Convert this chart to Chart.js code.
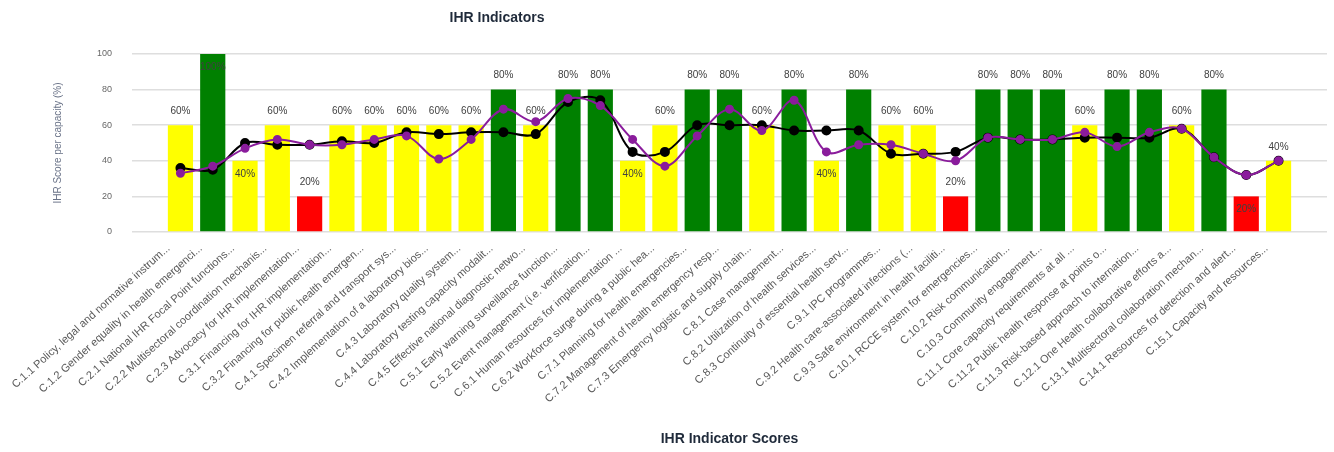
<!DOCTYPE html>
<html>
<head>
<meta charset="utf-8">
<script src="https://cdn.jsdelivr.net/npm/chart.js@4.4.0/dist/chart.umd.min.js"></script>
<style>
  html, body { margin: 0; padding: 0; background: #fff; }
</style>
</head>
<body>
<canvas id="ihrChart" width="1334" height="452"></canvas>
<script>
// indicator names (shown truncated on the axis)
const indicators = [
  "C.1.1 Policy, legal and normative instruments to implement IHR",
  "C.1.2 Gender equality in health emergencies",
  "C.2.1 National IHR Focal Point functions",
  "C.2.2 Multisectoral coordination mechanisms",
  "C.2.3 Advocacy for IHR implementation",
  "C.3.1 Financing for IHR implementation",
  "C.3.2 Financing for public health emergency response",
  "C.4.1 Specimen referral and transport system",
  "C.4.2 Implementation of a laboratory biosafety and biosecurity regime",
  "C.4.3 Laboratory quality system",
  "C.4.4 Laboratory testing capacity modalities",
  "C.4.5 Effective national diagnostic network",
  "C.5.1 Early warning surveillance function",
  "C.5.2 Event management (i.e. verification, investigation, analysis)",
  "C.6.1 Human resources for implementation of IHR",
  "C.6.2 Workforce surge during a public health event",
  "C.7.1 Planning for health emergencies",
  "C.7.2 Management of health emergency response",
  "C.7.3 Emergency logistic and supply chain management",
  "C.8.1 Case management",
  "C.8.2 Utilization of health services",
  "C.8.3 Continuity of essential health services",
  "C.9.1 IPC programmes",
  "C.9.2 Health care-associated infections (HCAI) surveillance",
  "C.9.3 Safe environment in health facilities",
  "C.10.1 RCCE system for emergencies",
  "C.10.2 Risk communication",
  "C.10.3 Community engagement",
  "C.11.1 Core capacity requirements at all times for PoEs",
  "C.11.2 Public health response at points of entry",
  "C.11.3 Risk-based approach to international travel-related measures",
  "C.12.1 One Health collaborative efforts across sectors",
  "C.13.1 Multisectoral collaboration mechanism for food safety events",
  "C.14.1 Resources for detection and alert",
  "C.15.1 Capacity and resources"
];

const scores = [60, 100, 40, 60, 20, 60, 60, 60, 60, 60, 80, 60, 80, 80, 40, 60, 80, 80,
  60, 80, 40, 80, 60, 60, 20, 80, 80, 80, 60, 80, 80, 60, 80, 20, 40];

const regionalAvg = [36, 35, 50, 49, 49, 51, 50, 56, 55, 56, 56, 55, 73, 74, 45, 45, 60, 60,
  60, 57, 57, 57, 44, 44, 45, 53, 52, 52, 53, 53, 53, 58, 42, 32, 40];

const globalAvg = [33, 37, 47, 52, 49, 49, 52, 54, 41, 52, 69, 62, 75, 71, 52, 37, 54, 69,
  57, 74, 45, 49, 49, 44, 40, 53, 52, 52, 56, 48, 56, 58, 42, 32, 40];

const yTicks = [0, 20, 40, 60, 80, 100];

const FONT = "'Liberation Sans', Arial, sans-serif";
const PURPLE = "#8a1c9c";

function barColour(v) {
  if (v >= 80) return "#008000";
  if (v >= 40) return "#ffff00";
  return "#ff0000";
}

function shortName(s) {
  return s.slice(0, 41) + "...";
}

// % labels on the bars, pushed inside when a line point sits just above the bar
const barLabels = {
  id: "barLabels",
  afterDatasetsDraw(chart) {
    const meta = chart.getDatasetMeta(0);
    const ctx = chart.ctx;
    ctx.save();
    ctx.font = "10px " + FONT;
    ctx.fillStyle = "#404040";
    ctx.textAlign = "center";
    ctx.textBaseline = "middle";
    meta.data.forEach((bar, i) => {
      const v = scores[i];
      const crowded = [regionalAvg[i], globalAvg[i]].some(l => l - v > 3 && l - v < 14);
      const inside = v >= 100 || crowded;
      ctx.fillText(v + "%", bar.x, inside ? bar.y + 13 : bar.y - 14);
    });
    ctx.restore();
  }
};

const TITLE_X = 497;
const chartTitle = {
  id: "chartTitle",
  afterDraw(chart) {
    const ctx = chart.ctx;
    ctx.save();
    ctx.font = "bold 14px " + FONT;
    ctx.fillStyle = "#1f2a3a";
    ctx.textAlign = "center";
    ctx.textBaseline = "middle";
    ctx.fillText("IHR Indicators", TITLE_X, 18);
    ctx.restore();
  }
};

const toPoints = arr => arr.map((y, x) => ({ x, y }));

let ctx = document.getElementById("ihrChart").getContext("2d");

new Chart(ctx, {
  data: {
    datasets: [
      {
        type: "bar",
        label: "Score",
        data: toPoints(scores),
        backgroundColor: scores.map(barColour),
        barPercentage: 0.78,
        categoryPercentage: 1,
        order: 2
      },
      {
        type: "line",
        label: "Regional average",
        data: toPoints(regionalAvg),
        borderColor: "#000",
        backgroundColor: "#000",
        borderWidth: 2,
        pointRadius: 4,
        tension: 0.35,
        order: 1
      },
      {
        type: "line",
        label: "Global average",
        data: toPoints(globalAvg),
        borderColor: PURPLE,
        backgroundColor: PURPLE,
        borderWidth: 2,
        pointRadius: 3.5,
        tension: 0.35,
        order: 0
      }
    ]
  },
  options: {
    responsive: false,
    animation: false,
    layout: { padding: { left: 48, right: 7, top: 54, bottom: 0 } },
    plugins: {
      legend: { display: false },
      tooltip: { enabled: false }
    },
    scales: {
      x: {
        type: "linear",
        min: -1,
        max: indicators.length,
        grid: { display: false, drawTicks: false },
        border: { display: false },
        ticks: {
          stepSize: 1,
          maxTicksLimit: 100,
          autoSkip: false,
          minRotation: 42,
          maxRotation: 42,
          padding: 10,
          labelOffset: -12,
          color: "#595959",
          font: { family: FONT, size: 11 },
          callback: v => (indicators[v] ? shortName(indicators[v]) : "")
        },
        title: {
          display: true,
          text: "IHR Indicator Scores",
          color: "#1f2a3a",
          font: { family: FONT, size: 14, weight: "bold" },
          padding: { top: 4, bottom: 4 }
        },
        afterFit: axis => { axis.height = 220; }
      },
      y: {
        min: 0,
        max: 100,
        grid: { color: "#dedede", lineWidth: 1.5, drawTicks: false },
        border: { display: false },
        afterBuildTicks: axis => { axis.ticks = yTicks.map(v => ({ value: v })); },
        ticks: {
          padding: 20,
          color: "#666",
          font: { family: FONT, size: 9 }
        },
        title: {
          display: true,
          text: "IHR Score per capacity (%)",
          color: "#6a7388",
          font: { family: FONT, size: 10 },
          padding: { top: 4, bottom: 4 }
        },
        afterFit: axis => { axis.width = 84; }
      }
    }
  },
  plugins: [barLabels, chartTitle]
});
</script>
</body>
</html>
